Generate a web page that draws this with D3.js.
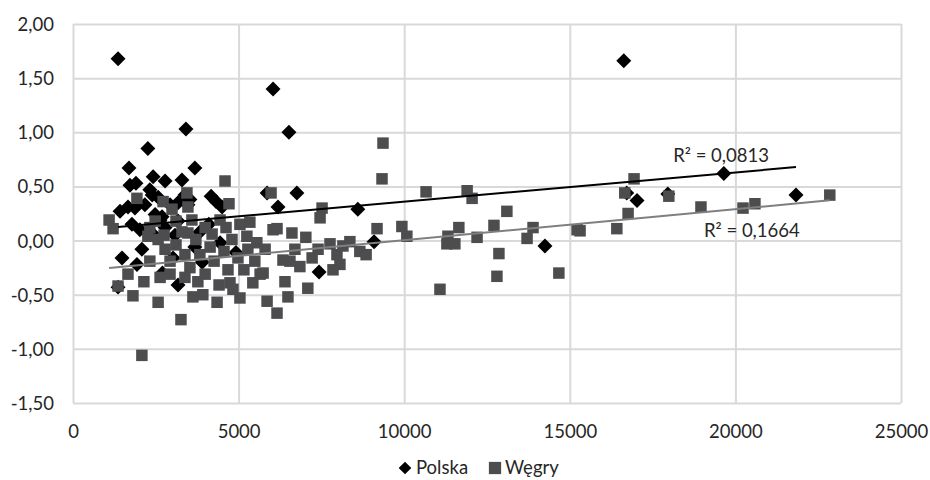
<!DOCTYPE html>
<html>
<head>
<meta charset="utf-8">
<script src="https://cdn.jsdelivr.net/npm/d3@7"></script>
<style>
  body { margin: 0; background: #fff; }
  text { font-family: Lato, "Noto Sans", sans-serif; fill: #262626; }
</style>
</head>
<body>
<svg id="graphContainer" width="930" height="480"></svg>
<script>
// Polska: [x, y]
let polskaData = [
  [1360,1.68],[16630,1.66],[6040,1.40],[3410,1.03],[6520,1.00],[2260,0.85],
  [1690,0.67],[3680,0.67],[1720,0.51],[1900,0.53],[2420,0.59],[2780,0.55],
  [3290,0.56],[5860,0.44],[6760,0.44],[4170,0.41],[4320,0.36],[4500,0.31],
  [6190,0.31],[8600,0.29],[1420,0.27],[1660,0.31],[1870,0.30],[2170,0.33],
  [2320,0.47],[2390,0.42],[2570,0.40],[2930,0.33],[3170,0.35],[3470,0.33],
  [3380,0.42],[3530,0.38],[2020,0.10],[1780,0.15],[2480,0.24],[2630,0.19],
  [2780,0.12],[3170,0.18],[3080,0.05],[3830,0.08],[4440,-0.02],[1480,-0.16],
  [1360,-0.43],[1930,-0.22],[2080,-0.08],[3020,-0.16],[3170,-0.41],[7430,-0.29],
  [9090,-0.01],[14250,-0.05],[16720,0.44],[17030,0.37],[17960,0.43],[19650,0.62],
  [21830,0.42],[4920,-0.11],[2690,0.22],[2480,0.04],[3680,-0.06],[3900,-0.20],
  [2700,-0.30],[4100,0.15]
];

// Węgry: [x, y]
let wegryData = [
  [22850,0.42],[16940,0.57],[16660,0.44],[17990,0.41],[16760,0.25],[16420,0.11],
  [15310,0.09],[18960,0.31],[20230,0.30],[20590,0.34],[10660,0.45],[11900,0.46],
  [12050,0.39],[13100,0.27],[9930,0.13],[10080,0.04],[11650,0.12],[11320,0.04],
  [11290,-0.03],[11530,-0.03],[12200,0.03],[12710,0.14],[13890,0.12],[13710,0.02],
  [15220,0.10],[12860,-0.12],[12800,-0.33],[14670,-0.30],[11080,-0.45],[9360,0.90],
  [9330,0.57],[5980,0.44],[7520,0.30],[7460,0.21],[5340,0.17],[6160,0.11],
  [6610,0.07],[7030,0.03],[5250,0.04],[5550,-0.02],[9180,0.11],[7760,-0.03],
  [8150,-0.05],[7970,-0.13],[8060,-0.22],[7850,-0.27],[8660,-0.10],[8850,-0.13],
  [6400,-0.38],[6490,-0.52],[7090,-0.44],[5860,-0.56],[6160,-0.67],[5040,-0.53],
  [4740,-0.39],[6850,-0.24],[5740,-0.30],[6340,-0.18],[4590,0.55],[4710,0.34],
  [3440,0.44],[3470,0.31],[2720,0.36],[1930,0.39],[1090,0.19],[1210,0.11],
  [6040,0.10],[1660,-0.31],[2140,-0.38],[1810,-0.51],[2570,-0.57],[3260,-0.73],
  [2080,-1.06],[1360,-0.42],[3620,-0.52],[3920,-0.50],[4350,-0.57],[4830,-0.45],
  [5430,-0.39],[2260,0.04],[2990,0.29],[3470,0.07],
  [2320,0.12],[2570,0.01],[2780,-0.08],[2930,-0.19],[3110,-0.04],[3290,0.08],
  [3380,-0.13],[3530,-0.25],[3710,0.01],[3830,-0.13],[3990,-0.31],[4140,-0.06],
  [4260,-0.19],[4410,-0.41],[4560,-0.10],[4680,-0.27],[4800,0.01],[4980,-0.16],
  [5160,-0.27],[5280,-0.08],[5490,-0.19],[5650,-0.31],[5800,-0.08],[2930,-0.31],
  [3380,-0.34],[2320,-0.19],[2630,-0.34],[3770,-0.38],[4200,0.06],[4620,0.12],
  [5040,0.15],[2750,0.05],[3110,0.18],[3990,0.12],[4440,0.19],[2480,0.18],
  [3590,0.19],[6700,-0.08],[7220,-0.16],[6550,-0.19],[7400,-0.08],[8360,-0.01]
];

// linear trend lines: [intercept, slope, xFrom, xTo]
let polskaTrend = [0.0895, 0.0000270, 1360, 21830];
let wegryTrend = [-0.284, 0.0000287, 1090, 22850];
let trendLabels = ["R² = 0,0813", "R² = 0,1664"];

let xTicks = [0, 5000, 10000, 15000, 20000, 25000];
let yTicks = [-1.5, -1, -0.5, 0, 0.5, 1, 1.5, 2];
let seriesNames = ["Polska", "Węgry"];

let margin = {top: 24, right: 29, bottom: 77, left: 73},
    width = 930 - margin.left - margin.right,
    height = 480 - margin.top - margin.bottom;

let fmt = function(v) { return d3.format(".2f")(v).replace(".", ",").replace("−", "-"); };

let svg = d3.select("#graphContainer")
  .append("g")
    .attr("transform", "translate(" + margin.left + "," + margin.top + ")");

let x = d3.scaleLinear().domain([0, 25000]).range([0, width]);
let y = d3.scaleLinear().domain([-1.5, 2]).range([height, 0]);

// gridlines
svg.append("g")
  .call(d3.axisLeft(y).tickValues(yTicks).tickSize(-width).tickFormat(""))
  .call(g => g.select(".domain").remove())
  .selectAll("line").attr("stroke", "#d9d9d9").attr("stroke-width", 2);
svg.append("g")
  .attr("transform", "translate(0," + height + ")")
  .call(d3.axisBottom(x).tickValues(xTicks).tickSize(-height).tickFormat(""))
  .call(g => g.select(".domain").remove())
  .selectAll("line").attr("stroke", "#d9d9d9").attr("stroke-width", 2);

// tick labels
svg.append("g")
  .call(d3.axisLeft(y).tickValues(yTicks).tickSize(0).tickFormat(fmt))
  .call(g => g.select(".domain").remove())
  .selectAll("text")
    .attr("font-size", 18.5).attr("dy", "0.35em").attr("x", -19).attr("fill", "#262626");
svg.append("g")
  .attr("transform", "translate(0," + height + ")")
  .call(d3.axisBottom(x).tickValues(xTicks).tickSize(0).tickFormat(d3.format("d")))
  .call(g => g.select(".domain").remove())
  .selectAll("text")
    .attr("font-size", 18.5).attr("y", 29).attr("dy", "0.35em").attr("fill", "#262626");

let diamond = d3.symbol(d3.symbolSquare, 112);
let square = d3.symbol(d3.symbolSquare, 132);

svg.append("g").selectAll("path")
  .data(polskaData)
  .enter().append("path")
    .attr("d", diamond)
    .attr("transform", function(d) { return "translate(" + x(d[0]) + "," + y(d[1]) + ") rotate(45)"; })
    .attr("fill", "#000");

svg.append("g").selectAll("path")
  .data(wegryData)
  .enter().append("path")
    .attr("d", square)
    .attr("transform", function(d) { return "translate(" + x(d[0]) + "," + y(d[1]) + ")"; })
    .attr("fill", "#4d4d4f");

// trend lines
let trends = [
  {t: polskaTrend, color: "#000"},
  {t: wegryTrend, color: "#7f7f7f"}
];
svg.append("g").selectAll("line")
  .data(trends)
  .enter().append("line")
    .attr("x1", function(d) { return x(d.t[2]); })
    .attr("x2", function(d) { return x(d.t[3]); })
    .attr("y1", function(d) { return y(d.t[0] + d.t[1] * d.t[2]); })
    .attr("y2", function(d) { return y(d.t[0] + d.t[1] * d.t[3]); })
    .attr("stroke", function(d) { return d.color; })
    .attr("stroke-width", 2);

// R² labels
svg.append("text")
  .attr("x", x(18120)).attr("y", y(0.785))
  .attr("font-size", 18.5).attr("dy", "0.35em")
  .text(trendLabels[0]);
svg.append("text")
  .attr("x", x(19050)).attr("y", y(0.09))
  .attr("font-size", 18.5).attr("dy", "0.35em")
  .text(trendLabels[1]);

// legend
let legend = d3.select("#graphContainer").append("g")
  .attr("transform", "translate(405,468)");
legend.append("path")
  .attr("d", d3.symbol(d3.symbolSquare, 80))
  .attr("transform", "rotate(45)")
  .attr("fill", "#000");
legend.append("text")
  .attr("x", 11).attr("dy", "0.35em").attr("font-size", 18.5)
  .text(seriesNames[0]);
legend.append("path")
  .attr("d", d3.symbol(d3.symbolSquare, 150))
  .attr("transform", "translate(90,0)")
  .attr("fill", "#4d4d4f");
legend.append("text")
  .attr("x", 100).attr("dy", "0.35em").attr("font-size", 18.5)
  .text(seriesNames[1]);
</script>
</body>
</html>
